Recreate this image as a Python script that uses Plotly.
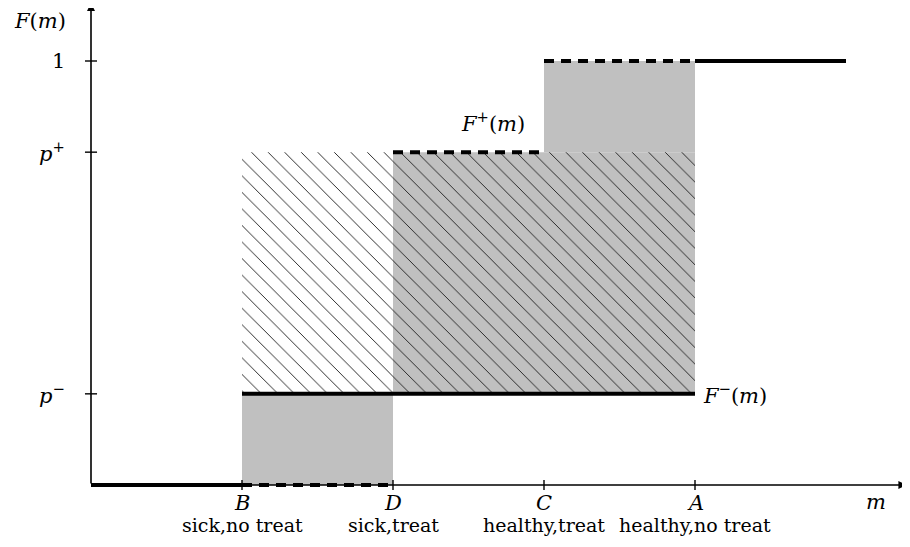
import plotly.graph_objects as go

# --- data ---
x_pos = {"B": 1.0, "D": 2.0, "C": 3.0, "A": 4.0}
x_names = ["B", "D", "C", "A"]
x_desc = ["sick,no treat", "sick,treat", "healthy,treat", "healthy,no treat"]
p_minus = 0.215
p_plus = 0.785
y_top = 1.0
x_end = 5.0

# F-(m): solid step function
fminus_x = [0.0, 1.0, None, 1.0, 4.0]
fminus_y = [0.0, 0.0, None, p_minus, p_minus]
# F+(m): dashed segments
fplus_x = [1.0, 2.0, None, 2.0, 3.0, None, 3.0, 4.0]
fplus_y = [0.0, 0.0, None, p_plus, p_plus, None, y_top, y_top]
# common upper tail
tail_x = [4.0, 5.0]
tail_y = [1.0, 1.0]

GRAY = "#c0c0c0"
FONT = "DejaVu Serif"
FS = 19
FSM = 21

fig = go.Figure()

def rect(x0, x1, y0, y1):
    return [x0, x1, x1, x0, x0], [y0, y0, y1, y1, y0]

# gray fills
for (x0, x1, y0, y1) in [(1, 2, 0, p_minus), (2, 4, p_minus, p_plus), (3, 4, p_plus, 1)]:
    xs, ys = rect(x0, x1, y0, y1)
    fig.add_trace(go.Scatter(x=xs, y=ys, mode="lines", fill="toself",
                             fillcolor=GRAY, line=dict(width=0), hoverinfo="skip",
                             showlegend=False))

# hatched region
xs, ys = rect(1, 4, p_minus, p_plus)
fig.add_trace(go.Scatter(x=xs, y=ys, mode="lines", fill="toself",
                         fillcolor="rgba(0,0,0,0)",
                         fillpattern=dict(shape="\\", fgcolor="#202020", fgopacity=1,
                                          bgcolor="rgba(0,0,0,0)", size=11.7,
                                          solidity=0.08, fillmode="overlay"),
                         line=dict(width=0), hoverinfo="skip", showlegend=False))

# axes lines (drawn as arrows)
fig.add_annotation(x=5.4, y=0, ax=0, ay=0, xref="x", yref="y", axref="x", ayref="y",
                   showarrow=True, arrowhead=2, arrowsize=1, arrowwidth=1.6,
                   arrowcolor="black", text="")
fig.add_annotation(x=0, y=1.137, ax=0, ay=0, xref="x", yref="y", axref="x", ayref="y",
                   showarrow=True, arrowhead=2, arrowsize=1, arrowwidth=1.6,
                   arrowcolor="black", text="")

# tick marks
tx, ty = [], []
for n in x_names:
    tx += [x_pos[n], x_pos[n], None]
    ty += [-0.012, 0.012, None]
for v in [p_minus, p_plus, y_top]:
    tx += [-0.04, 0.04, None]
    ty += [v, v, None]
fig.add_trace(go.Scatter(x=tx, y=ty, mode="lines", line=dict(color="black", width=1.4),
                         hoverinfo="skip", showlegend=False))

# step functions
fig.add_trace(go.Scatter(x=fminus_x, y=fminus_y, mode="lines",
                         line=dict(color="black", width=4), hoverinfo="skip", showlegend=False))
fig.add_trace(go.Scatter(x=fplus_x, y=fplus_y, mode="lines",
                         line=dict(color="black", width=4, dash="10px,7px"),
                         hoverinfo="skip", showlegend=False))
fig.add_trace(go.Scatter(x=tail_x, y=tail_y, mode="lines",
                         line=dict(color="black", width=4), hoverinfo="skip", showlegend=False))

# labels
def lab(x, y, text, xanchor="center", yanchor="middle", size=FS):
    fig.add_annotation(x=x, y=y, xref="x", yref="y", text=text, showarrow=False,
                       xanchor=xanchor, yanchor=yanchor,
                       font=dict(family=FONT, size=size, color="black"))

lab(-0.34, 1.094, "<i>F</i>(<i>m</i>)", size=FSM)
lab(-0.16, 1.0, "1", xanchor="right", size=FSM)
lab(-0.16, p_plus, "<i>p</i><sup>+</sup>", xanchor="right", size=FSM)
lab(-0.16, p_minus, "<i>p</i><sup>−</sup>", xanchor="right", size=FSM)
lab(2.66, 0.856, "<i>F</i><sup>+</sup>(<i>m</i>)", size=FSM)
lab(4.04, p_minus, "<i>F</i><sup>−</sup>(<i>m</i>)", xanchor="left", size=FSM)
lab(5.2, -0.04, "<i>m</i>", size=FSM)
for n, d in zip(x_names, x_desc):
    lab(x_pos[n], -0.042, "<i>" + n + "</i>", size=FSM)
    lab(x_pos[n], -0.094, d)

fig.update_layout(
    width=910, height=547,
    margin=dict(l=0, r=0, t=0, b=0),
    paper_bgcolor="white", plot_bgcolor="white",
    xaxis=dict(range=[-83/151, 827/151], visible=False, fixedrange=True),
    yaxis=dict(range=[-70/424, 477/424], visible=False, fixedrange=True),
    showlegend=False,
)

fig.write_html("out.html")
